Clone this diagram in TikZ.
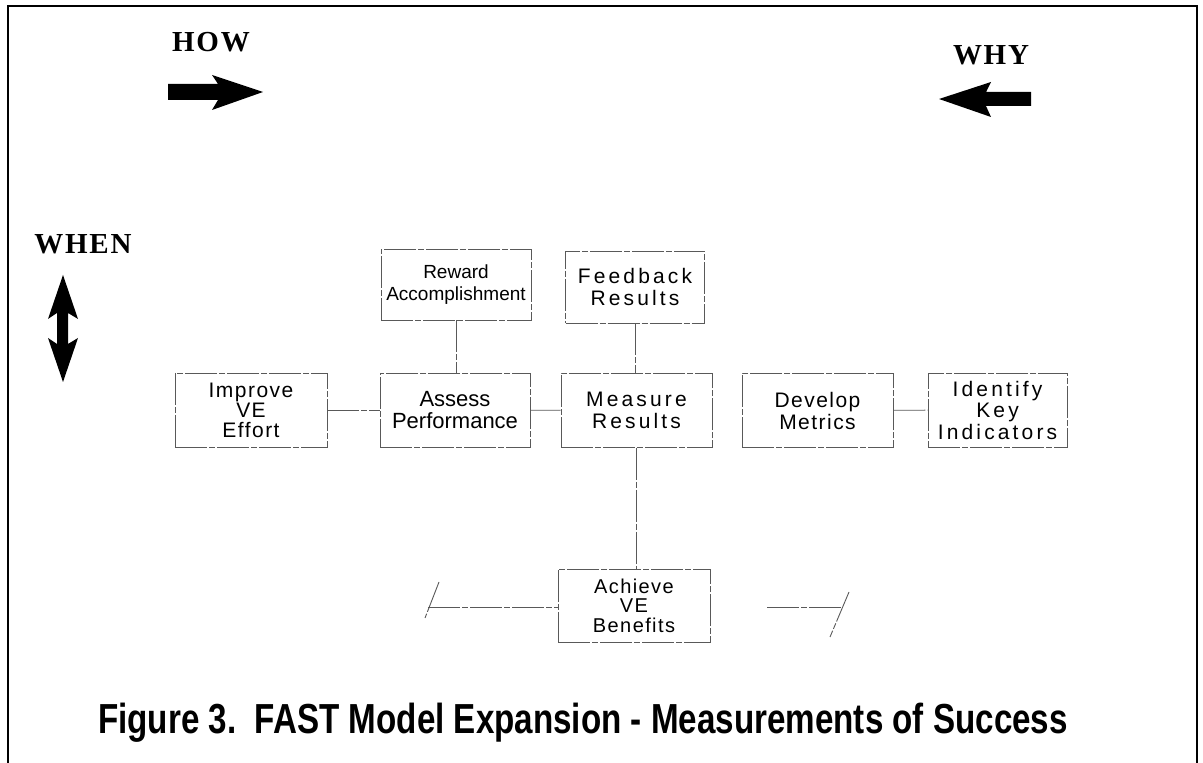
\documentclass[tikz,border=0pt]{standalone}
\usepackage{fontspec}
\setmainfont{Liberation Sans}
\newfontfamily\dirfont[LetterSpace=6]{Liberation Serif}
\newfontfamily\capfont[FakeStretch=0.79]{Liberation Sans}
\newfontfamily\wideft[LetterSpace=15]{Liberation Sans}
\newfontfamily\midft[LetterSpace=7]{Liberation Sans}
\usetikzlibrary{positioning}
\tikzset{
fastbox/.style={draw=black!65, line width=0.45pt,
    dash pattern=on 16pt off 1pt on 3pt off 1pt,
    minimum width=75pt, minimum height=36.5pt, inner sep=0pt, align=center},
fastlink/.style={draw=black!65, line width=0.45pt,
    dash pattern=on 16pt off 1pt on 3pt off 1pt},
dirlabel/.style={font=\dirfont\bfseries\fontsize{14.5}{16}\selectfont},
}

\begin{document}
\begin{tikzpicture}[x=0.5pt, y=-0.5pt]
            \useasboundingbox (0,0) rectangle (1203,763);
            \draw[line width=1.3pt] (8,775) -- (8,6) -- (1197,6) -- (1197,775);

            \node[dirlabel] (how) at (211,42) {HOW};
            \node[dirlabel] (why) at (991,55) {WHY};
            \node[dirlabel] (when) at (83,244) {WHEN};
            \fill (168,84) -- (218,84) -- (212,75) -- (263,92) -- (212,110) -- (218,100) -- (168,100) -- cycle;
            \fill (1031,92) -- (986,92) -- (991,82) -- (939,99) -- (991,117) -- (986,106) -- (1031,106) -- cycle;
            \fill (63,275) -- (78,319) -- (68,313) -- (68,344) -- (78,338) -- (63,382)
                -- (48,338) -- (57,344) -- (57,313) -- (48,319) -- cycle;

            \node[fastbox, minimum width=75pt, minimum height=35.5pt,
                font=\fontsize{9.5}{11}\selectfont] (reward) at (456,284.5) {Reward\\Accomplishment};
            \node[fastbox, minimum width=69.5pt, minimum height=36pt,
                font=\wideft\fontsize{10.5}{11}\selectfont] (feedback) at (635,287) {Feedback\\Results};
            \node[fastbox, minimum width=76pt, minimum height=37pt,
                font=\midft\fontsize{10.5}{10}\selectfont] (improve) at (251,410) {Improve\\VE\\Effort};
            \node[fastbox, minimum width=75pt, minimum height=37pt,
                font=\fontsize{11}{11}\selectfont] (assess) at (455,410) {Assess\\Performance};
            \node[fastbox, minimum width=75.5pt, minimum height=37pt,
                font=\wideft\fontsize{10.5}{11}\selectfont] (measure) at (636.5,410.5) {Measure\\Results};
            \node[fastbox, minimum width=75.5pt, minimum height=37pt,
                font=\midft\fontsize{10.5}{11}\selectfont] (develop) at (817.5,410.5) {Develop\\Metrics};
            \node[fastbox, minimum width=69.5pt, minimum height=37pt,
                font=\wideft\fontsize{10.5}{10.75}\selectfont] (identify) at (997.5,410) {Identify\\Key\\Indicators};
            \node[fastbox, minimum width=76pt, minimum height=36.5pt,
                font=\midft\fontsize{10}{9.75}\selectfont] (achieve) at (634,605.5) {Achieve\\VE\\Benefits};

            \draw[fastlink] (reward.south) -- (reward.south |- assess.north);
            \draw[fastlink] (feedback.south) -- (feedback.south |- measure.north);
            \draw[fastlink] (improve) -- (assess);
            \draw[fastlink] (assess) -- (measure);
            \draw[fastlink] (develop) -- (identify);
            \draw[fastlink] (measure.south) -- (measure.south |- achieve.north);

            \coordinate (lscope) at (428,607);
            \coordinate (lcuttop) at (439,582);
            \coordinate (lcutbot) at (425,618);
            \coordinate (rstart) at (767,607);
            \coordinate (rscope) at (842,607);
            \coordinate (rcuttop) at (849,592);
            \coordinate (rcutbot) at (830,637);
            \draw[fastlink] (lscope) -- (achieve.west |- lscope);
            \draw[fastlink] (lcuttop) -- (lcutbot);
            \draw[fastlink] (rstart) -- (rscope);
            \draw[fastlink] (rcuttop) -- (rcutbot);

            \node[font=\capfont\bfseries\fontsize{21}{24}\selectfont, anchor=base] (caption) at (583,733)
                {Figure 3.\ \ FAST Model Expansion - Measurements of Success};
        \end{tikzpicture}
\end{document}
